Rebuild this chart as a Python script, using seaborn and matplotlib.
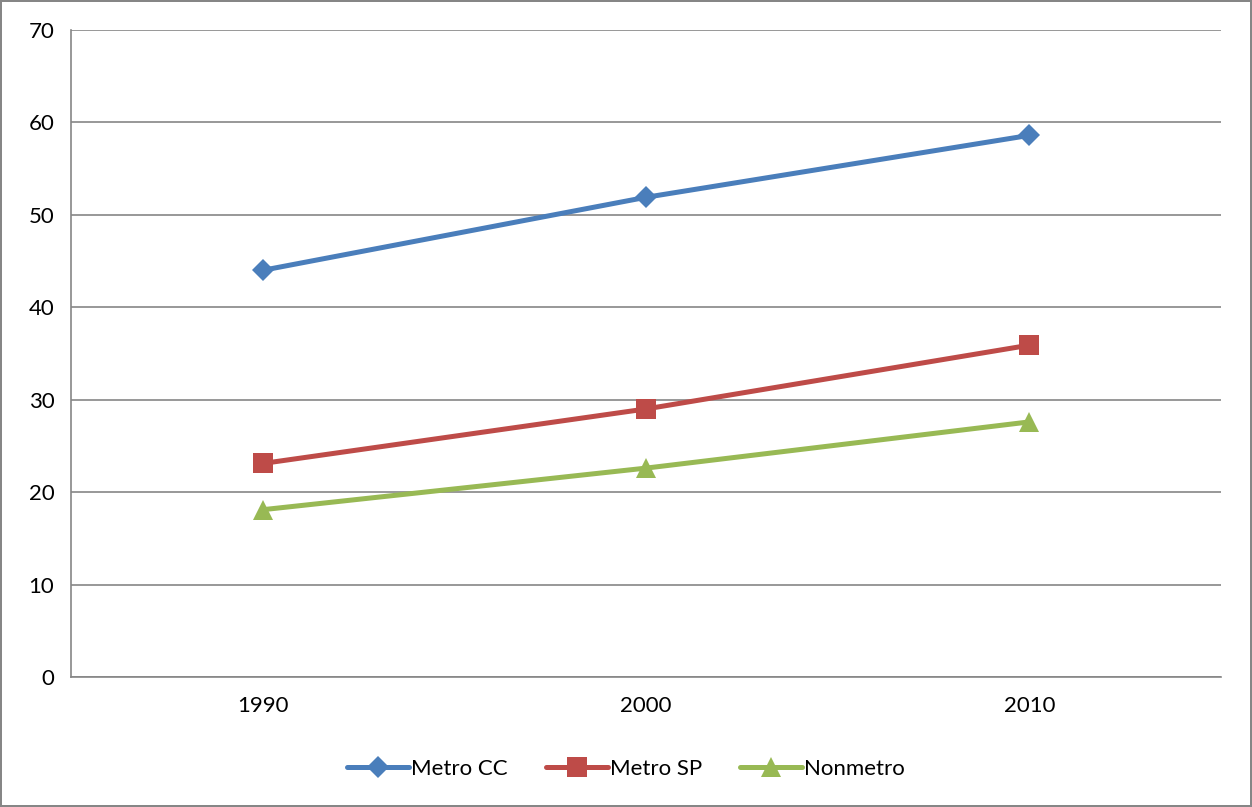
import matplotlib
matplotlib.use("Agg")
import matplotlib.pyplot as plt
import pandas as pd
import seaborn as sns

years = ["1990", "2000", "2010"]
series = ["Metro CC", "Metro SP", "Nonmetro"]
metro_cc = [44.0, 51.9, 58.6]
metro_sp = [23.1, 29.0, 35.9]
nonmetro = [18.1, 22.6, 27.6]

colors = {"Metro CC": "#4A7EBB", "Metro SP": "#BE4B48", "Nonmetro": "#98B954"}
markers = {"Metro CC": "D", "Metro SP": "s", "Nonmetro": "^"}

df = pd.DataFrame({
    "year": years * 3,
    "value": metro_cc + metro_sp + nonmetro,
    "series": [s for s in series for _ in years],
})

sns.set_style("white")
plt.rcParams["font.family"] = ["Lato", "DejaVu Sans"]

fig = plt.figure(figsize=(12.52, 8.07), dpi=100, linewidth=1.5, edgecolor="#868686")
ax = fig.add_axes([71 / 1252, 130 / 807, 1150 / 1252, 647 / 807])

sns.lineplot(data=df, x="year", y="value", hue="series", style="series",
             markers=markers, dashes=False, palette=colors, linewidth=3.6,
             markersize=14, markeredgewidth=0, ax=ax, legend=True)
for line in ax.lines:
    if line.get_marker() == "D":
        line.set_markersize(11.5)

ax.set_xlim(-0.5, 2.5)
ax.set_ylim(0, 70)
ax.set_yticks(range(0, 71, 10))
ax.set_xticks([0, 1, 2])
ax.set_xticks([-0.5, 0.5, 1.5, 2.5], minor=True)
ax.tick_params(axis="x", which="major", length=0, pad=14, labelsize=16, labelcolor="black")
ax.tick_params(axis="x", which="minor", length=7, width=1.2, color="#868686", direction="out")
ax.tick_params(axis="y", length=7, width=1.2, color="#868686", direction="out", pad=5,
               labelsize=16, labelcolor="black")
ax.set_xlabel("")
ax.set_ylabel("")
ax.yaxis.grid(True, color="#868686", linewidth=1.2)
ax.set_axisbelow(True)
for side in ["top", "right"]:
    ax.spines[side].set_visible(False)
for side in ["left", "bottom"]:
    ax.spines[side].set_color("#868686")
    ax.spines[side].set_linewidth(1.2)

handles, labels = ax.get_legend_handles_labels()
leg = ax.legend(handles, labels, loc="center", bbox_to_anchor=(0.5, 38 / 807),
                bbox_transform=fig.transFigure, ncol=3, frameon=False, fontsize=16,
                handlelength=2.8, handletextpad=0.1, columnspacing=1.7)
for t in leg.get_texts():
    t.set_color("black")

fig.savefig("out.png", dpi=100)
